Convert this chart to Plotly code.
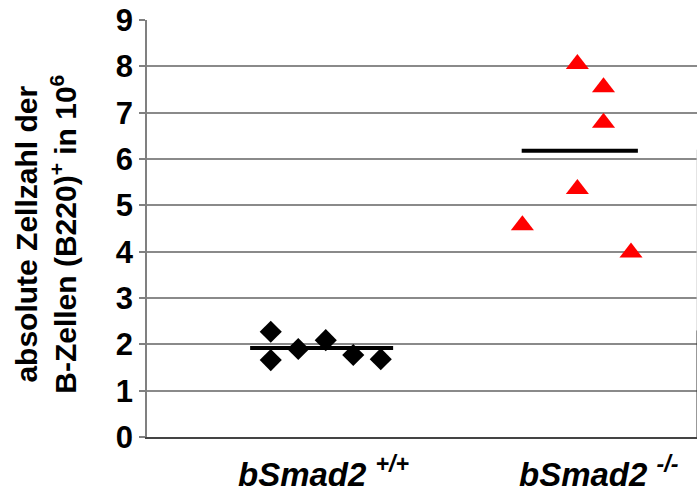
import plotly.graph_objects as go

# Absolute B-cell counts (B220+) in 10^6, per animal
wt_x = [0.9, 0.9, 1.1, 1.3, 1.5, 1.7]
wt_y = [2.27, 1.66, 1.90, 2.09, 1.77, 1.68]
ko_x = [3.13, 3.32, 3.32, 3.13, 2.73, 3.52]
ko_y = [8.05, 7.55, 6.78, 5.35, 4.57, 3.98]

# Group mean bars: x extent and level
wt_mean_x = [0.75, 1.79]
wt_mean_y = 1.92
ko_mean_x = [2.725, 3.57]
ko_mean_y = 6.18

group_x = [1.28, 3.29]
group_labels = ["bSmad2 <sup>+/+</sup>", "bSmad2 <sup>-/-</sup>"]
y_ticks = [0, 1, 2, 3, 4, 5, 6, 7, 8, 9]

FONT = "Liberation Sans, Arial, sans-serif"

fig = go.Figure()

fig.add_trace(go.Scatter(
    x=wt_mean_x, y=[wt_mean_y] * 2, mode="lines",
    line=dict(color="black", width=4), showlegend=False, hoverinfo="skip"))
fig.add_trace(go.Scatter(
    x=ko_mean_x, y=[ko_mean_y] * 2, mode="lines",
    line=dict(color="black", width=4), showlegend=False, hoverinfo="skip"))

fig.add_trace(go.Scatter(
    x=wt_x, y=wt_y, mode="markers",
    marker=dict(symbol="diamond", size=17, color="black"),
    showlegend=False))
fig.add_trace(go.Scatter(
    x=ko_x, y=ko_y, mode="markers",
    marker=dict(symbol="triangle-up", size=20, color="#ff0000"),
    showlegend=False))

# Right-hand frame edge near the base of the plot
fig.add_shape(type="line", xref="x", yref="y", x0=4, x1=4, y0=2.3, y1=6.2,
              line=dict(color="#c8c8c8", width=1))
fig.add_shape(type="line", xref="x", yref="y", x0=4, x1=4, y0=-0.1, y1=2.3,
              line=dict(color="#333333", width=1))

fig.add_annotation(
    text="absolute Zellzahl der<br>B-Zellen (B220)<sup>+</sup> in 10<sup>6</sup>",
    xref="paper", yref="paper", x=-101 / 550, y=0.485,
    xanchor="center", yanchor="middle", textangle=-90, showarrow=False,
    font=dict(family=FONT, size=30, color="black", weight="bold"))

for gx, lab in zip(group_x, group_labels):
    fig.add_annotation(
        text="<i>" + lab + "</i>", xref="x", yref="paper", x=gx, y=-0.085,
        xanchor="center", yanchor="middle", showarrow=False,
        font=dict(family=FONT, size=33, color="black", weight="bold"))

fig.update_xaxes(
    range=[0, 4], showgrid=False, zeroline=False, showticklabels=False,
    showline=True, linecolor="#444444", linewidth=1.5, ticks="", fixedrange=True)
fig.update_yaxes(
    range=[0, 9], tickvals=y_ticks, ticktext=[str(v) for v in y_ticks],
    showgrid=True, gridcolor="#8a8a8a", gridwidth=1.5, zeroline=False,
    showline=True, linecolor="#808080", linewidth=1.5,
    ticks="outside", ticklen=6, tickcolor="#808080", tickwidth=1.5,
    tickfont=dict(family=FONT, size=31, color="black", weight="bold"))

fig.update_layout(
    width=698, height=495,
    margin=dict(l=147, r=1, t=20, b=58),
    paper_bgcolor="white", plot_bgcolor="white",
    font=dict(family=FONT),
)

fig.write_html("out.html")
